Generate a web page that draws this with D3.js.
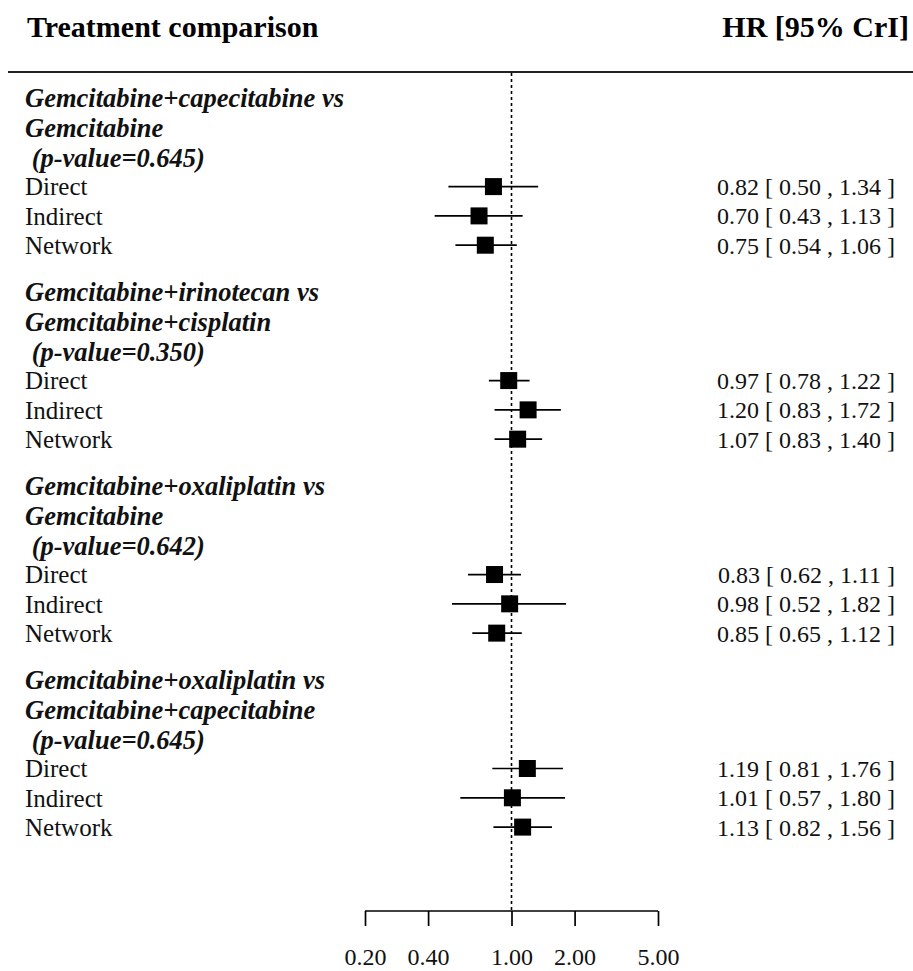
<!DOCTYPE html>
<html>
<head>
<meta charset="utf-8">
<script src="https://cdn.jsdelivr.net/npm/d3@7"></script>
<style>
  html, body { margin: 0; padding: 0; background: #fff; }
  svg { display: block; font-family: "Liberation Serif", "Times New Roman", serif; }
</style>
</head>
<body>
<svg id="chart" width="913" height="971"></svg>
<script>
// Comparisons (three-line headings) and their p-values
const comparisons = [
  ["Gemcitabine+capecitabine vs", "Gemcitabine"],
  ["Gemcitabine+irinotecan vs", "Gemcitabine+cisplatin"],
  ["Gemcitabine+oxaliplatin vs", "Gemcitabine"],
  ["Gemcitabine+oxaliplatin vs", "Gemcitabine+capecitabine"]
];
const pValues = ["0.645", "0.350", "0.642", "0.645"];
const evidence = ["Direct", "Indirect", "Network"];

// Hazard ratios with 95% credible intervals, per comparison: [Direct, Indirect, Network]
const hr    = [[0.82, 0.70, 0.75], [0.97, 1.20, 1.07], [0.83, 0.98, 0.85], [1.19, 1.01, 1.13]];
const lower = [[0.50, 0.43, 0.54], [0.78, 0.83, 0.83], [0.62, 0.52, 0.65], [0.81, 0.57, 0.82]];
const upper = [[1.34, 1.13, 1.06], [1.22, 1.72, 1.40], [1.11, 1.82, 1.12], [1.76, 1.80, 1.56]];

const tickValues = [0.2, 0.4, 1, 2, 5];

const svg = d3.select("#chart");
const W = 913;

// log-scale HR axis
const x = d3.scaleLog().domain([0.2, 5]).range([365, 658]);

// row layout: each comparison block spans 6.62 row units;
// heading centred at 0, evidence rows at 2, 3, 4
const blockRows = 6.62;
const y = d3.scaleLinear().domain([0, 1]).range([128, 157.3]);
const rowOf = (g, k) => g * blockRows + 2 + k;

const fs = 24;
const headY = 37;

// column headers
svg.append("text").attr("x", 27).attr("y", headY)
  .attr("font-size", 30).attr("font-weight", "bold")
  .text("Treatment comparison");
svg.append("text").attr("x", 909).attr("y", headY)
  .attr("font-size", 30).attr("font-weight", "bold").attr("text-anchor", "end")
  .text("HR [95% CrI]");

// rule under headers
svg.append("line").attr("x1", 8).attr("x2", W).attr("y1", 72).attr("y2", 72)
  .attr("stroke", "#222").attr("stroke-width", 2);

const axisY = 911;

// reference line at HR = 1
svg.append("line").attr("x1", x(1)).attr("x2", x(1)).attr("y1", 73).attr("y2", axisY)
  .attr("stroke", "#000").attr("stroke-width", 1.6).attr("stroke-dasharray", "3,3");

// comparison headings
comparisons.forEach((lines, g) => {
  const cy = y(g * blockRows);
  const heading = lines.concat([" (p-value=" + pValues[g] + ")"]);
  heading.forEach((t, i) => {
    svg.append("text")
      .attr("x", 25).attr("y", cy + (i - 1) * 30)
      .attr("dy", "0.35em")
      .attr("font-size", 26.5).attr("font-style", "italic").attr("font-weight", "bold")
      .attr("fill", "#111")
      .attr("xml:space", "preserve")
      .style("white-space", "pre")
      .text(t);
  });
});

// evidence rows
const rows = [];
comparisons.forEach((_, g) => evidence.forEach((ev, k) => rows.push({
  g, k, ev, est: hr[g][k], lo: lower[g][k], hi: upper[g][k]
})));

const rowG = svg.append("g").selectAll("g").data(rows).join("g")
  .attr("transform", d => `translate(0,${y(rowOf(d.g, d.k))})`);

rowG.append("text").attr("x", 25).attr("dy", "0.35em")
  .attr("font-size", 25).attr("fill", "#111").text(d => d.ev);

rowG.append("line")
  .attr("x1", d => x(d.lo)).attr("x2", d => x(d.hi))
  .attr("stroke", "#000").attr("stroke-width", 1.7);

const box = 17;
rowG.append("rect")
  .attr("x", d => x(d.est) - box / 2).attr("y", -box / 2)
  .attr("width", box).attr("height", box).attr("fill", "#000");

const f2 = d3.format(".2f");
rowG.append("text").attr("x", 895).attr("dy", "0.35em")
  .attr("text-anchor", "end").attr("font-size", fs).attr("fill", "#111")
  .attr("xml:space", "preserve").style("white-space", "pre")
  .text(d => `${f2(d.est)} [ ${f2(d.lo)} , ${f2(d.hi)} ]`);

// x axis
const axis = d3.axisBottom(x).tickValues(tickValues).tickFormat(f2)
  .tickSize(15).tickPadding(22);
const ax = svg.append("g").attr("transform", `translate(0,${axisY})`).call(axis);
ax.select(".domain").attr("d", `M${x(0.2)},0H${x(5)}`).attr("stroke-width", 1.7);
ax.selectAll(".tick line").attr("stroke-width", 1.7);
ax.selectAll(".tick text").attr("font-size", fs).attr("font-family", "Liberation Serif, Times New Roman, serif")
  .attr("fill", "#111");
</script>
</body>
</html>
